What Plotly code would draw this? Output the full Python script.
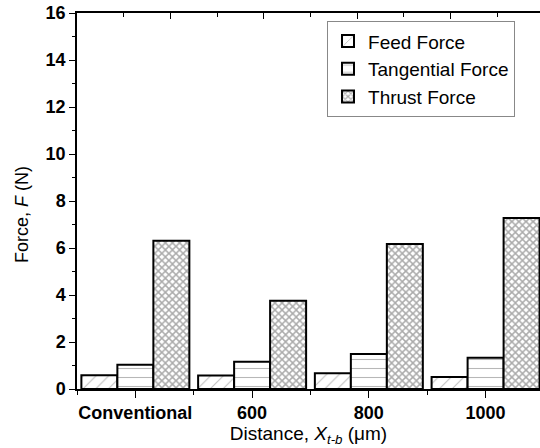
import plotly.graph_objects as go

categories = ["Conventional", "600", "800", "1000"]
feed_force = [0.58, 0.57, 0.67, 0.51]
tangential_force = [1.03, 1.16, 1.49, 1.33]
thrust_force = [6.31, 3.76, 6.17, 7.28]
series_names = ["Feed Force", "Tangential Force", "Thrust Force"]
y_ticks = list(range(0, 17, 2))

FONT = "Liberation Sans, Arial, sans-serif"
xpos = list(range(len(categories)))

fig = go.Figure()
patterns = [
    dict(shape="/", fgcolor="#808080", bgcolor="white", size=9, solidity=0.12),
    dict(shape="-", fgcolor="#707070", bgcolor="white", size=9, solidity=0.12),
    dict(shape="x", fgcolor="#555555", bgcolor="white", size=5, solidity=0.5),
]
for name, vals, pat in zip(series_names, [feed_force, tangential_force, thrust_force], patterns):
    fig.add_trace(go.Bar(
        x=xpos, y=vals, name=name,
        marker=dict(color="white", pattern=pat, line=dict(color="black", width=2)),
    ))

# invisible trace to carry the top axis
fig.add_trace(go.Scatter(x=[0], y=[0], xaxis="x2", mode="markers",
                         marker=dict(opacity=0), showlegend=False, hoverinfo="skip"))

fig.update_layout(
    width=540, height=448,
    margin=dict(l=77, r=0, t=13, b=59),
    paper_bgcolor="white", plot_bgcolor="white",
    barmode="group", bargap=0.075, bargroupgap=0,
    font=dict(family=FONT, color="black"),
    showlegend=True,
    legend=dict(
        x=0.54, y=0.978, xanchor="left", yanchor="top",
        bordercolor="#888888", borderwidth=1, bgcolor="white",
        font=dict(size=19, family=FONT), tracegroupgap=0,
        itemwidth=30,
    ),
    xaxis=dict(
        range=[-0.5, 3.466],
        tickmode="array", tickvals=xpos, ticktext=categories,
        ticks="outside", ticklen=7, tickwidth=1.3, tickcolor="black",
        tickfont=dict(size=18, weight="bold", family=FONT),
        minor=dict(tickmode="linear", tick0=-0.5, dtick=1, ticks="outside", ticklen=4,
                   tickwidth=1.3, tickcolor="black"),
        showline=True, linecolor="black", linewidth=1.5,
        showgrid=False, zeroline=False,
        title=dict(text="Distance, <i>X</i><sub><i>t-b</i></sub> (μm)", font=dict(size=19), standoff=4),
    ),
    xaxis2=dict(
        overlaying="x", side="top", range=[0, 4.957],
        tickmode="linear", tick0=0, dtick=1,
        ticks="inside", ticklen=6, tickwidth=1.3, tickcolor="black",
        minor=dict(tickmode="linear", tick0=0, dtick=0.5, ticks="inside", ticklen=4,
                   tickwidth=1.3, tickcolor="black"),
        showticklabels=False, showline=True, linecolor="black", linewidth=1.5,
        showgrid=False, zeroline=False,
    ),
    yaxis=dict(
        range=[0, 16], tickmode="array", tickvals=y_ticks,
        ticks="outside", ticklen=6, tickwidth=1.3, tickcolor="black",
        tickfont=dict(size=18, weight="bold", family=FONT),
        minor=dict(tickmode="linear", tick0=0, dtick=1, ticks="outside", ticklen=3,
                   tickwidth=1.3, tickcolor="black"),
        showline=True, linecolor="black", linewidth=1.5,
        showgrid=False, zeroline=False,
    ),
    annotations=[dict(
        text="Force, <i>F</i> (N)", textangle=-90,
        xref="paper", yref="paper", x=(22 - 77) / 463, y=(389 - 215) / 376,
        xanchor="center", yanchor="middle", showarrow=False,
        font=dict(size=18, family=FONT),
    )],
)

fig.write_html("out.html")
